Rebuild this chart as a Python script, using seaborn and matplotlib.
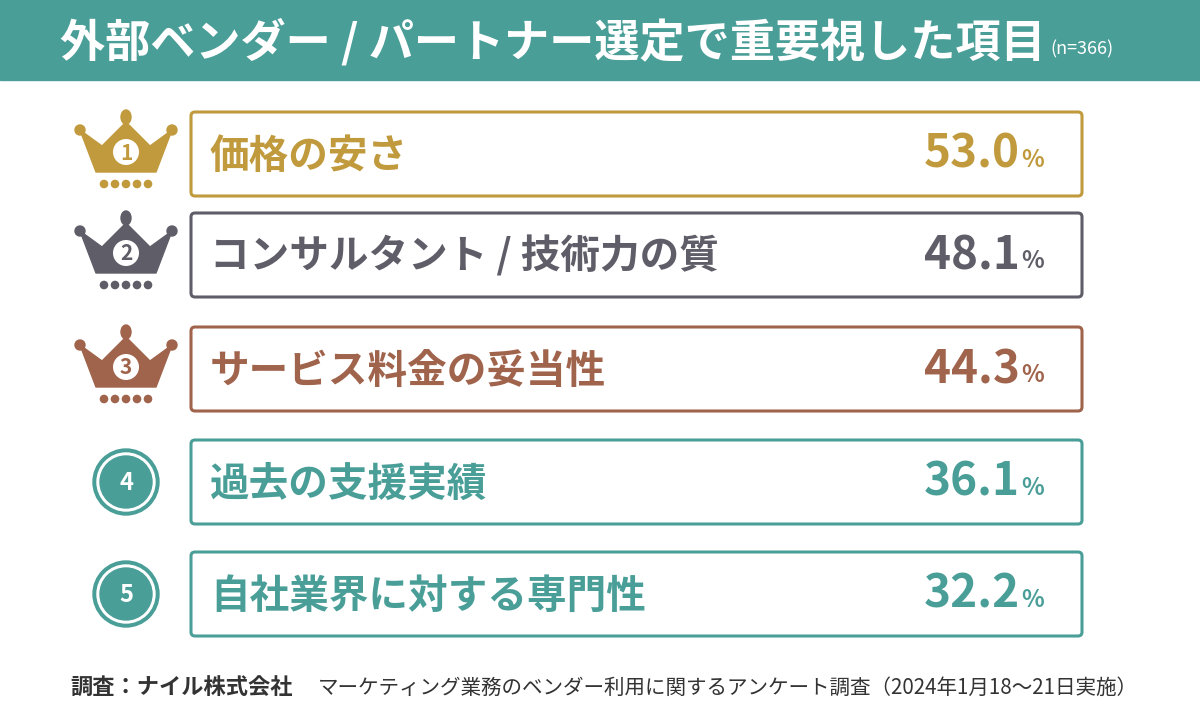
import matplotlib
matplotlib.use("Agg")
import matplotlib.pyplot as plt
from matplotlib.patches import Rectangle, FancyBboxPatch, Polygon, Circle, Ellipse
import seaborn as sns
import pandas as pd

items = ["価格の安さ", "コンサルタント / 技術力の質", "サービス料金の妥当性", "過去の支援実績", "自社業界に対する専門性"]
values = [53.0, 48.1, 44.3, 36.1, 32.2]
ranks = [1, 2, 3, 4, 5]
colors = ["#c09a3c", "#5f5d68", "#a0634b", "#4a9e98", "#4a9e98"]
tops = [112, 213, 327, 440, 552]

sns.set_theme(style="white")
FONT = "Noto Sans CJK JP"
plt.rcParams["font.family"] = FONT

fig = plt.figure(figsize=(12, 7.12), dpi=100)
ax = fig.add_axes([0, 0, 1, 1])
ax.set_xlim(0, 1200); ax.set_ylim(712, 0); ax.axis("off")

teal = "#4a9e98"
ax.add_patch(Rectangle((0, 0), 1200, 80, color=teal, zorder=0))
ax.text(60, 43, "外部ベンダー / パートナー選定で重要視した項目", color="white", fontsize=32.5,
        fontweight="bold", va="center", ha="left")
ax.text(1050, 49, "(n=366)", color="white", fontsize=13, va="center", ha="left")

df = pd.DataFrame({"item": items, "value": values, "rank": ranks, "top": tops})
h = 84
for i, r in df.iterrows():
    c = colors[i]; t = r["top"]; cy = t + h / 2
    ax.add_patch(FancyBboxPatch((191, t), 891, h, boxstyle="round,pad=0,rounding_size=4",
                                fc="white", ec=c, lw=2.2))
    ax.text(210, cy + 2, r["item"], color=c, fontsize=28.5, fontweight="bold", va="center", ha="left")
    ax.text(1020, cy + 1, f"{r['value']:.1f}", color=c, fontsize=33, fontweight="bold", va="center", ha="right")
    ax.text(1021, cy + 6, "%", color=c, fontsize=17, fontweight="bold", va="center", ha="left")
    cx = 126
    if r["rank"] <= 3:
        y0 = cy - 4
        pts = [(-46, -20), (-30, 22), (30, 22), (46, -20), (24, -4), (0, -28), (-24, -4)]
        ax.add_patch(Polygon([(cx + x, y0 + y) for x, y in pts], closed=True, fc=c, ec=c, lw=1, joinstyle="round"))
        for dx in (-46, 46):
            ax.add_patch(Circle((cx + dx, y0 - 20), 5, color=c))
        ax.add_patch(Ellipse((cx, y0 - 33), 10, 14, color=c))
        ax.add_patch(Circle((cx, y0 + 2), 13, fc="white", ec="none"))
        ax.text(cx, y0 + 3, str(r["rank"]), color=c, fontsize=15, fontweight="bold", ha="center", va="center")
        for k in range(5):
            ax.add_patch(Circle((cx - 22 + 11 * k, y0 + 34), 3.6, color=c))
    else:
        ax.add_patch(Circle((cx, cy), 33, color=c))
        ax.add_patch(Circle((cx, cy), 29, color="white"))
        ax.add_patch(Circle((cx, cy), 26, color=c))
        ax.text(cx, cy + 1, str(r["rank"]), color="white", fontsize=17, fontweight="bold", ha="center", va="center")

ax.text(70, 688, "調査：ナイル株式会社", color="#333333", fontsize=16, fontweight="bold", va="center", ha="left")
ax.text(318, 688, "マーケティング業務のベンダー利用に関するアンケート調査（2024年1月18～21日実施）",
        color="#333333", fontsize=14.8, va="center", ha="left")

fig.savefig("out.png", dpi=100)
